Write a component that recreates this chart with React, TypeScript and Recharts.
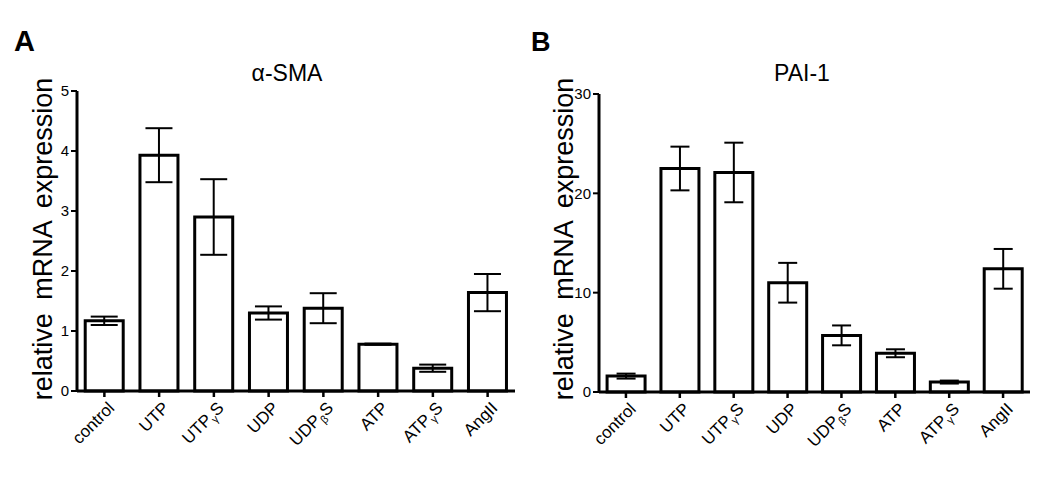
import { BarChart, Bar, XAxis, YAxis, ErrorBar } from 'recharts';

const categories = ['control', 'UTP', 'UTPγS', 'UDP', 'UDPβS', 'ATP', 'ATPγS', 'AngII'];

const smaValues = [1.17, 3.93, 2.9, 1.3, 1.38, 0.78, 0.38, 1.64];
const smaErrors = [0.07, 0.45, 0.63, 0.11, 0.25, 0.01, 0.06, 0.31];
const smaTicks = [0, 1, 2, 3, 4, 5];

const paiValues = [1.6, 22.5, 22.1, 11.0, 5.7, 3.9, 1.0, 12.4];
const paiErrors = [0.25, 2.2, 3.0, 2.0, 1.0, 0.4, 0.15, 2.0];
const paiTicks = [0, 10, 20, 30];

const FONT = '"Liberation Sans", Arial, sans-serif';

const smaData = categories.map((name, i) => ({ name, value: smaValues[i], err: smaErrors[i] }));
const paiData = categories.map((name, i) => ({ name, value: paiValues[i], err: paiErrors[i] }));

// rotated category label; a greek letter becomes a small subscript (UTPγS)
function renderXTick(props: any) {
  const { x, y, payload } = props;
  const label: string = payload?.value ?? '';
  const m = label.match(/^(.*?)([αβγ])(.*)$/);
  const ax = x + 11;
  const ay = y + 10;
  return (
    <g transform={`translate(${ax} ${ay})`}>
      <g transform="rotate(-45)">
        <text x={0} y={0} textAnchor="end" style={{ fontSize: 17, fontFamily: FONT }} fill="#000">
          {m ? (
            <>
              <tspan>{m[1]}</tspan>
              <tspan style={{ fontSize: 11 }} dy={4}>{m[2]}</tspan>
              <tspan dy={-4}>{m[3]}</tspan>
            </>
          ) : (
            label
          )}
        </text>
      </g>
    </g>
  );
}

interface PanelProps {
  data: { name: string; value: number; err: number }[];
  ticks: number[];
  margin: { top: number; right: number; bottom: number; left: number };
  whisker: number;
}

function Panel({ data, ticks, margin, whisker }: PanelProps) {
  return (
    <BarChart width={530} height={480} data={data} margin={margin} barCategoryGap="15%">
      <XAxis
        dataKey="name"
        height={60}
        interval={0}
        tick={renderXTick}
        tickSize={6}
        axisLine={{ stroke: '#000', strokeWidth: 3 }}
        tickLine={{ stroke: '#000', strokeWidth: 2.5 }}
      />
      <YAxis
        width={40}
        domain={[ticks[0], ticks[ticks.length - 1]]}
        ticks={ticks}
        tickSize={6}
        tick={{ fill: '#000', fontSize: 15, fontFamily: FONT }}
        axisLine={{ stroke: '#000', strokeWidth: 3 }}
        tickLine={{ stroke: '#000', strokeWidth: 2 }}
      />
      <Bar dataKey="value" fill="#fff" stroke="#000" strokeWidth={3} isAnimationActive={false}>
        <ErrorBar dataKey="err" width={whisker} stroke="#000" strokeWidth={2} />
      </Bar>
    </BarChart>
  );
}

export default function App() {
  return (
    <div style={{ position: 'absolute', left: 0, top: 0, width: 1050, height: 480, background: '#fff' }}>
      <div style={{ position: 'absolute', left: 0, top: 0 }}>
        <Panel data={smaData} ticks={smaTicks} whisker={13.5} margin={{ top: 91, right: 15, bottom: 29, left: 37 }} />
      </div>
      <div style={{ position: 'absolute', left: 520, top: 0 }}>
        <Panel data={paiData} ticks={paiTicks} whisker={9.5} margin={{ top: 94, right: 20, bottom: 28, left: 39 }} />
      </div>
      <svg width={1050} height={480} style={{ position: 'absolute', left: 0, top: 0, pointerEvents: 'none' }} fontFamily={FONT}>
        <text x={14} y={51} fontSize={29} fontWeight="bold">A</text>
        <text x={531} y={51} fontSize={27} fontWeight="bold">B</text>
        <text x={287} y={81} fontSize={23} textAnchor="middle">α-SMA</text>
        <text x={802} y={81} fontSize={23} textAnchor="middle">PAI-1</text>
        <text transform="translate(52,239) rotate(-90)" fontSize={27} wordSpacing={6} textAnchor="middle">relative mRNA expression</text>
        <text transform="translate(573,239) rotate(-90)" fontSize={27} wordSpacing={6} textAnchor="middle">relative mRNA expression</text>
      </svg>
    </div>
  );
}
